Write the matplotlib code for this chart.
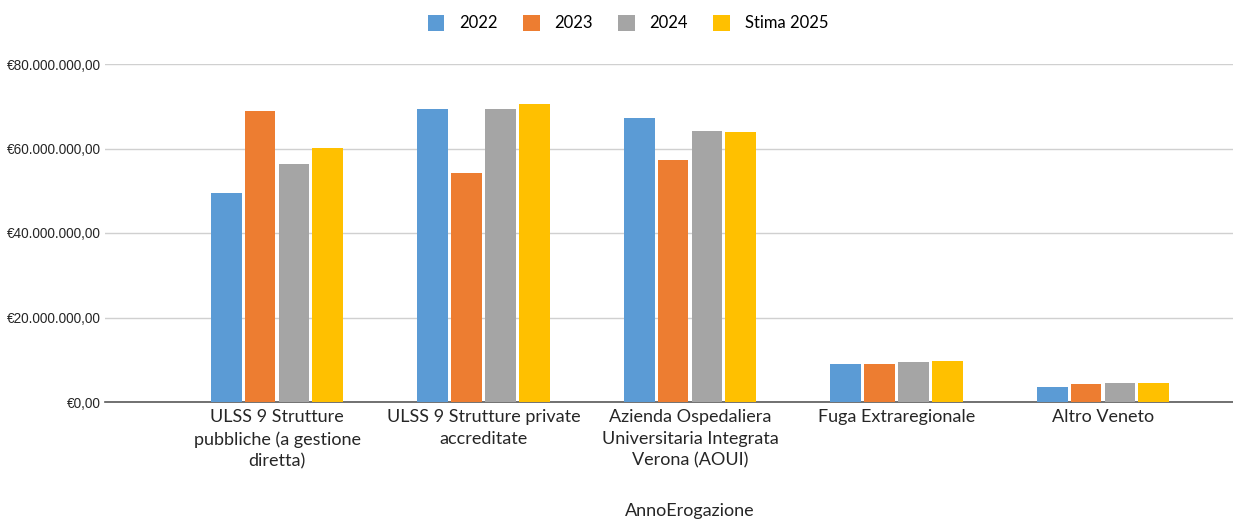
import numpy as np
import matplotlib
matplotlib.use("Agg")
import matplotlib.pyplot as plt
from matplotlib.ticker import FuncFormatter

categories = ["ULSS 9 Strutture\npubbliche (a gestione\ndiretta)",
              "ULSS 9 Strutture private\naccreditate",
              "Azienda Ospedaliera\nUniversitaria Integrata\nVerona (AOUI)",
              "Fuga Extraregionale",
              "Altro Veneto"]
series = ["2022", "2023", "2024", "Stima 2025"]
v2022 = [49.5e6, 69.3e6, 67.2e6, 9.0e6, 3.5e6]
v2023 = [68.9e6, 54.2e6, 57.3e6, 9.0e6, 4.2e6]
v2024 = [56.3e6, 69.3e6, 64.1e6, 9.4e6, 4.6e6]
v2025 = [60.1e6, 70.5e6, 63.9e6, 9.7e6, 4.6e6]
colors = ["#5B9BD5", "#ED7D31", "#A5A5A5", "#FFC000"]

def euro(v, pos):
    s = f"{v:,.2f}".replace(",", "X").replace(".", ",").replace("X", ".")
    return "€" + s

fig = plt.figure(figsize=(12.33, 5.19), dpi=100)
ax = fig.add_axes([105/1233, 1-402/519, 1128/1233, 338/519])

x = np.arange(len(categories))
w = 0.15
step = 0.1646
for i, (name, vals) in enumerate(zip(series, [v2022, v2023, v2024, v2025])):
    ax.bar(x + (i-1.5)*step, vals, w, color=colors[i], label=name, zorder=3)

ax.set_ylim(0, 80e6)
ax.set_yticks([0, 20e6, 40e6, 60e6, 80e6])
ax.yaxis.set_major_formatter(FuncFormatter(euro))
ax.set_xlim((105-277)/206.5, (1233-277)/206.5)
ax.set_xticks(x)
ax.set_xticklabels(categories, fontsize=13, family="Lato", color="#262626", linespacing=1.45)
ax.grid(axis="y", color="#D0D0D0", lw=1, zorder=0)
for s in ["top", "right", "left"]:
    ax.spines[s].set_visible(False)
ax.spines["bottom"].set_color("#595959")
ax.spines["bottom"].set_linewidth(1.2)
ax.tick_params(axis="both", length=0)
ax.tick_params(axis="y", labelsize=9.8, labelcolor="#262626", pad=3)
ax.tick_params(axis="x", pad=5)
for t in ax.get_yticklabels():
    t.set_family("Liberation Sans")

fig.text(690/1233, 1-511/519, "AnnoErogazione", ha="center", va="center",
         fontsize=13, family="Lato", color="#262626")
fig.legend(loc="center", bbox_to_anchor=(628/1233, 1-23/519), ncol=4, frameon=False,
           prop={"family": "Lato", "size": 12}, handlelength=1.0, handleheight=1.1,
           columnspacing=1.5, handletextpad=0.9)

fig.savefig("out.png", dpi=100)
